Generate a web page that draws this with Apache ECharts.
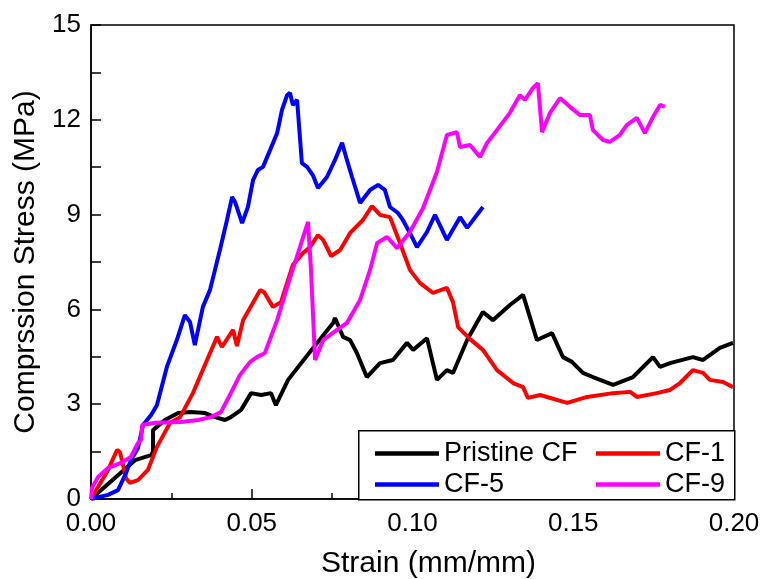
<!DOCTYPE html>
<html>
<head>
	<meta charset="utf-8">
	<title>Compression stress-strain</title>
	<style type="text/css">
		body{
			margin: 0px;
			background: #fff;
		}
		.chart{
			width: 761px;
			height: 579px;
		}
	</style>
	<script type="text/javascript" src="https://cdn.jsdelivr.net/npm/echarts@6/dist/echarts.min.js"></script>
</head>
<body>
	<div id="chart" class="chart"></div>
	<script type="text/javascript">
		var seriesNames = ['Pristine CF', 'CF-1', 'CF-5', 'CF-9'];
		var seriesColors = ['#000000', '#ff0000', '#0000ff', '#ff00ff'];

		// [strain, stress]
		var pristineCF = [
			[0, 0], [0.0006, 0.03], [0.0137, 1.23], [0.0187, 1.39], [0.0193, 1.49], [0.0193, 2.18],
			[0.023, 2.5], [0.0271, 2.72], [0.0311, 2.75], [0.0355, 2.72], [0.0386, 2.59], [0.0417, 2.5],
			[0.0435, 2.59], [0.0467, 2.82], [0.0498, 3.35], [0.0529, 3.29], [0.056, 3.35], [0.0575, 2.97],
			[0.0613, 3.77], [0.0681, 4.65], [0.0753, 5.57], [0.0759, 5.73], [0.0784, 5.13], [0.0806, 5.03],
			[0.0827, 4.62], [0.0858, 3.86], [0.0899, 4.30], [0.0939, 4.40], [0.0983, 4.94], [0.1002, 4.72],
			[0.1045, 5.09], [0.1076, 3.77], [0.1107, 4.08], [0.1126, 3.99], [0.117, 5.03], [0.1219, 5.92],
			[0.125, 5.66], [0.1303, 6.14], [0.1344, 6.46], [0.1387, 5.03], [0.1434, 5.25], [0.1468, 4.49],
			[0.1496, 4.34], [0.153, 3.99], [0.1561, 3.86], [0.1624, 3.61], [0.1686, 3.86], [0.1748, 4.49],
			[0.177, 4.18], [0.1801, 4.30], [0.1872, 4.49], [0.1904, 4.40], [0.1956, 4.78], [0.1997, 4.94]
		];
		var cf1 = [
			[0, 0], [0.0053, 0.92], [0.0081, 1.55], [0.009, 1.49], [0.0109, 0.66], [0.0121, 0.51],
			[0.0146, 0.6], [0.0177, 0.92], [0.0205, 1.65], [0.0246, 2.41], [0.0277, 2.59], [0.0317, 3.35],
			[0.0361, 4.40], [0.0392, 5.13], [0.0407, 4.81], [0.0442, 5.35], [0.0454, 4.84], [0.0473, 5.66],
			[0.0526, 6.61], [0.0538, 6.55], [0.0566, 6.08], [0.0591, 6.23], [0.0628, 7.41], [0.0659, 7.78],
			[0.0681, 7.97], [0.0706, 8.35], [0.0722, 8.20], [0.0747, 7.69], [0.0775, 7.88], [0.0806, 8.42],
			[0.0846, 8.83], [0.0874, 9.27], [0.0899, 8.99], [0.093, 8.92], [0.0961, 8.10], [0.0992, 7.25],
			[0.1023, 6.84], [0.1064, 6.52], [0.1107, 6.68], [0.1126, 6.23], [0.1142, 5.44], [0.1179, 5.06],
			[0.1219, 4.72], [0.1263, 4.08], [0.1313, 3.67], [0.1344, 3.54], [0.1359, 3.20], [0.1397, 3.29],
			[0.1481, 3.04], [0.1543, 3.23], [0.1624, 3.35], [0.1677, 3.39], [0.1698, 3.23], [0.176, 3.35],
			[0.1801, 3.45], [0.1832, 3.67], [0.1872, 4.08], [0.1904, 3.99], [0.1925, 3.77], [0.1966, 3.70],
			[0.1997, 3.54]
		];
		var cf5 = [
			[0, 0], [0.0053, 0.13], [0.0084, 0.28], [0.0109, 0.82], [0.0124, 1.23], [0.0146, 1.61],
			[0.0162, 2.34], [0.0187, 2.66], [0.0205, 2.97], [0.0236, 4.18], [0.0267, 5.03], [0.0292, 5.82],
			[0.0308, 5.60], [0.0323, 4.87], [0.0348, 6.08], [0.037, 6.61], [0.0401, 7.88], [0.0423, 8.83],
			[0.0439, 9.56], [0.0448, 9.40], [0.047, 8.73], [0.0488, 9.24], [0.0504, 10.09], [0.0519, 10.41],
			[0.0535, 10.51], [0.0557, 11.04], [0.0579, 11.58], [0.0594, 12.31], [0.061, 12.78], [0.0619, 12.85],
			[0.0628, 12.47], [0.0641, 12.63], [0.0656, 10.63], [0.0672, 10.51], [0.069, 10.25], [0.0706, 9.84],
			[0.0734, 10.19], [0.0759, 10.73], [0.0781, 11.27], [0.0796, 10.73], [0.0812, 10.19], [0.0837, 9.37],
			[0.0868, 9.78], [0.0893, 9.94], [0.0914, 9.78], [0.093, 9.24], [0.0955, 9.05], [0.097, 8.83],
			[0.0992, 8.42], [0.1014, 7.97], [0.1045, 8.45], [0.107, 8.99], [0.1107, 8.20], [0.1148, 8.92],
			[0.117, 8.58], [0.1219, 9.24]
		];
		var cf9 = [
			[0, 0], [0.0003, 0.35], [0.0022, 0.70], [0.0053, 0.98], [0.0093, 1.14], [0.0124, 1.33],
			[0.0146, 1.77], [0.0156, 1.87], [0.0159, 2.34], [0.0199, 2.41], [0.028, 2.44], [0.0333, 2.50],
			[0.0373, 2.59], [0.0404, 2.75], [0.0432, 3.29], [0.0463, 3.92], [0.0495, 4.34], [0.0516, 4.49],
			[0.0541, 4.62], [0.0579, 5.66], [0.0619, 6.99], [0.065, 7.97], [0.0675, 8.77], [0.0684, 7.31],
			[0.0697, 4.40], [0.0722, 5.03], [0.0765, 5.35], [0.0796, 5.57], [0.0837, 6.30], [0.0868, 7.25],
			[0.089, 8.10], [0.0921, 8.29], [0.0952, 7.94], [0.0992, 8.45], [0.1033, 9.21], [0.1076, 10.35],
			[0.1107, 11.52], [0.1138, 11.61], [0.1148, 11.14], [0.1179, 11.20], [0.121, 10.82], [0.1232, 11.27],
			[0.1263, 11.68], [0.1303, 12.22], [0.1334, 12.78], [0.135, 12.63], [0.1375, 13.01], [0.139, 13.16],
			[0.1403, 11.61], [0.1428, 12.22], [0.1459, 12.69], [0.149, 12.41], [0.1521, 12.15], [0.1552, 12.15],
			[0.1561, 11.68], [0.1593, 11.36], [0.1614, 11.30], [0.1645, 11.52], [0.1667, 11.84], [0.1698, 12.06],
			[0.1723, 11.58], [0.1748, 12.09], [0.177, 12.47], [0.1785, 12.41]
		];
		var seriesData = [pristineCF, cf1, cf5, cf9];

		var font = 'Liberation Sans, Arial, sans-serif';
		var chart = echarts.init(document.getElementById('chart'));

		var series = [];
		for(var i = 0; i < seriesNames.length; i++){
			series.push({
				name: seriesNames[i],
				type: 'line',
				data: seriesData[i],
				showSymbol: false,
				symbol: 'none',
				animation: false,
				lineStyle: {
					color: seriesColors[i],
					width: 4
				},
				itemStyle: {
					color: seriesColors[i]
				}
			});
		}

		var legendBase = {
			orient: 'vertical',
			icon: 'rect',
			itemWidth: 64,
			itemHeight: 4.5,
			itemGap: 4,
			selectedMode: false,
			textStyle: {
				fontFamily: font,
				fontSize: 27,
				color: '#000'
			}
		};

		chart.setOption({
			backgroundColor: '#fff',
			color: seriesColors,
			animation: false,
			grid: {
				left: 91,
				right: 27,
				top: 25,
				bottom: 80,
				show: true,
				borderColor: '#000',
				borderWidth: 1.5,
				containLabel: false,
				outerBoundsMode: 'none'
			},
			legend: [
				Object.assign({}, legendBase, {
					data: ['Pristine CF', 'CF-5'],
					left: 370,
					top: 435
				}),
				Object.assign({}, legendBase, {
					data: ['CF-1', 'CF-9'],
					left: 591,
					top: 435
				})
			],
			graphic: [{
				type: 'rect',
				left: 358,
				top: 430,
				shape: { width: 376, height: 69 },
				style: { fill: '#fff', stroke: '#000', lineWidth: 1.5 },
				z: 3
			}],
			xAxis: {
				type: 'value',
				min: 0,
				max: 0.2,
				interval: 0.05,
				name: 'Strain (mm/mm)',
				nameLocation: 'middle',
				nameGap: 50,
				nameTextStyle: { fontFamily: font, fontSize: 30, color: '#000', padding: [0, 0, 0, 32] },
				axisLine: { show: true, onZero: false, lineStyle: { color: '#000', width: 1.5 } },
				axisTick: { show: true, inside: true, length: 10, lineStyle: { color: '#000', width: 1.5 } },
				minorTick: { show: true, splitNumber: 2, length: 6, lineStyle: { color: '#000', width: 1.5 } },
				splitLine: { show: false },
				axisLabel: {
					fontFamily: font,
					fontSize: 26,
					color: '#000',
					margin: 12,
					formatter: function(v){ return v.toFixed(2); }
				}
			},
			yAxis: {
				type: 'value',
				min: 0,
				max: 15,
				interval: 3,
				name: 'Comprssion Stress (MPa)',
				nameLocation: 'middle',
				nameGap: 50,
				nameTextStyle: { fontFamily: font, fontSize: 30, color: '#000' },
				axisLine: { show: true, lineStyle: { color: '#000', width: 1.5 } },
				axisTick: { show: true, inside: true, length: 10, lineStyle: { color: '#000', width: 1.5 } },
				minorTick: { show: true, splitNumber: 2, length: 10, lineStyle: { color: '#000', width: 1.5 } },
				splitLine: { show: false },
				axisLabel: {
					fontFamily: font,
					fontSize: 26,
					color: '#000',
					margin: 10
				}
			},
			series: series
		});
	</script>
</body>
</html>
